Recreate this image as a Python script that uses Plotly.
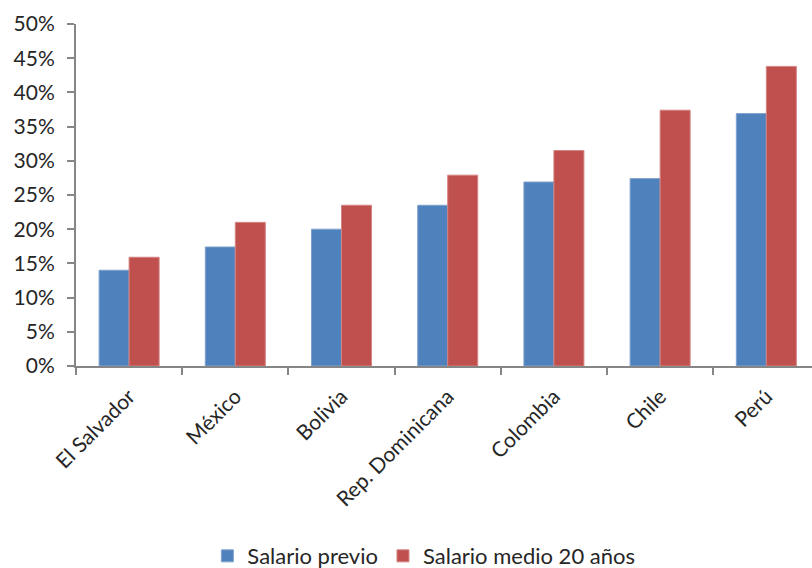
import plotly.graph_objects as go

paises = ["El Salvador", "México", "Bolivia", "Rep. Dominicana", "Colombia", "Chile", "Perú"]
salario_previo = [0.140, 0.174, 0.200, 0.235, 0.269, 0.274, 0.369]
salario_medio_20 = [0.159, 0.210, 0.235, 0.279, 0.315, 0.374, 0.438]
y_ticks = [0, 0.05, 0.10, 0.15, 0.20, 0.25, 0.30, 0.35, 0.40, 0.45, 0.50]

FONT = "Lato"
AXIS_GREY = "#868686"
TEXT = "#262626"

fig = go.Figure()
fig.add_trace(go.Bar(
    x=paises, y=salario_previo, name="Salario previo",
    marker=dict(color="#4F81BD", line=dict(color="#7FA2CE", width=1)),
))
fig.add_trace(go.Bar(
    x=paises, y=salario_medio_20, name="Salario medio 20 años",
    marker=dict(color="#C0504D", line=dict(color="#D48482", width=1)),
))

fig.update_layout(
    width=812, height=568,
    margin=dict(l=76, r=0, t=24, b=202, autoexpand=False),
    paper_bgcolor="white", plot_bgcolor="white",
    barmode="group", bargap=0.435, bargroupgap=0,
    font=dict(family=FONT, size=20, color=TEXT),
    showlegend=True,
    legend=dict(
        orientation="h", xref="container", x=0.522, xanchor="center",
        yref="container", y=0.021, yanchor="middle",
        font=dict(family=FONT, size=22, color=TEXT),
        itemwidth=30, traceorder="normal",
    ),
)

fig.update_xaxes(
    type="category", range=[-0.5, 6.43], automargin=False,
    showline=True, linecolor=AXIS_GREY, linewidth=2,
    ticks="outside", tickson="boundaries", ticklen=7, tickwidth=2, tickcolor=AXIS_GREY,
    tickangle=-45, ticklabelstandoff=8, showgrid=False, zeroline=False,
    tickfont=dict(family=FONT, size=21, color=TEXT),
)
fig.update_yaxes(
    range=[0, 0.5], tickvals=y_ticks, tickformat=".0%", automargin=False,
    showline=True, linecolor=AXIS_GREY, linewidth=2,
    ticks="outside", ticklen=7, tickwidth=2, tickcolor=AXIS_GREY,
    ticklabelstandoff=8,
    showgrid=False, zeroline=False,
    tickfont=dict(family=FONT, size=21, color=TEXT),
)

fig.write_html("out.html")
